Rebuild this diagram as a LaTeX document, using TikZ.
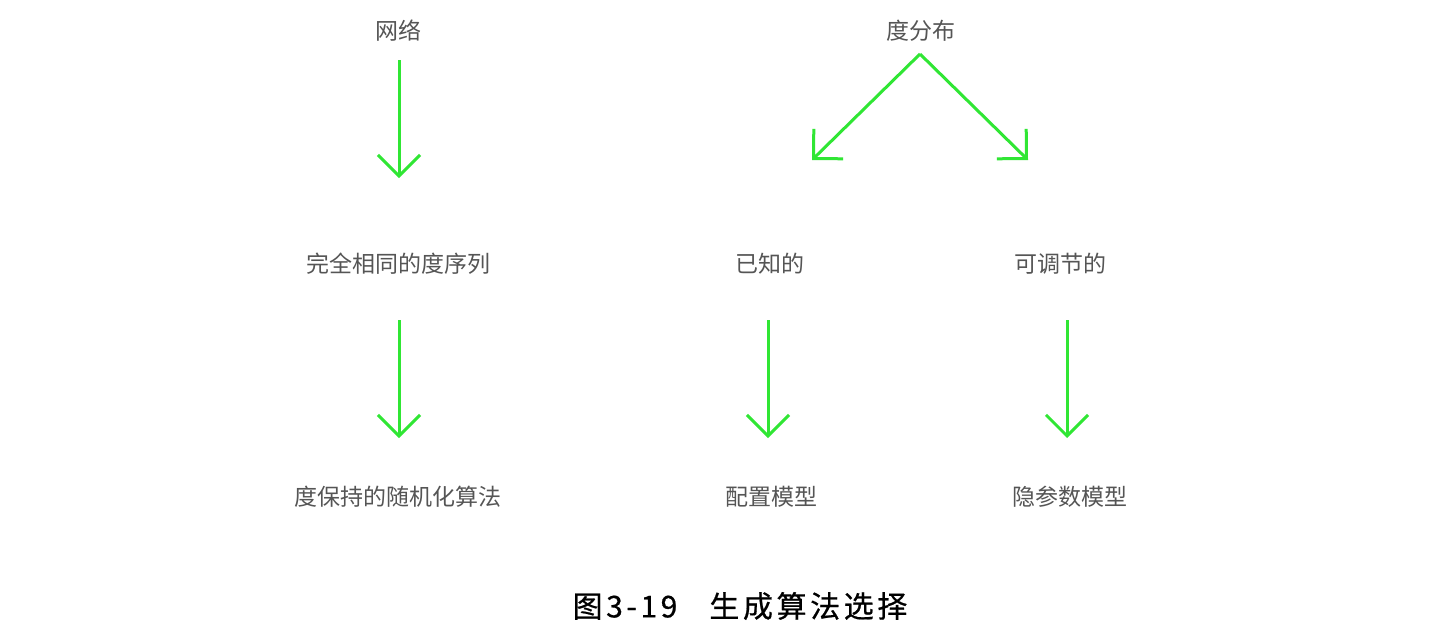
\documentclass[tikz,border=0pt]{standalone}
\usepackage{fontspec}
\newfontfamily\cjk{Noto Sans CJK SC}
\newfontfamily\capfont[LetterSpace=12,FakeBold=0.6]{Noto Sans CJK SC}
\usetikzlibrary{arrows.meta}
\definecolor{arrowgreen}{RGB}{48,230,52}
\definecolor{labelgray}{RGB}{85,85,85}
\tikzset{
  lbl/.style={inner sep=0pt, text=labelgray, font=\cjk\fontsize{11.5}{14}\selectfont},
  arr/.style={draw=arrowgreen, line width=1.5pt,
    -{Straight Barb[length=10.5pt,width=21pt,line width=1.5pt]}},
}
\begin{document}
\begin{tikzpicture}[x=0.5pt,y=-0.5pt]
  \useasboundingbox[fill=white] (0,0) rectangle (1456,634);
  % top row
  \node[lbl] (net) at (398,31) {网络};
  \node[lbl] (deg) at (921,31) {度分布};
  % middle row
  \node[lbl] (same) at (398,264) {完全相同的度序列};
  \node[lbl] (known) at (770,264) {已知的};
  \node[lbl] (tune) at (1060,264) {可调节的};
  % bottom row
  \node[lbl] (rand) at (398,497) {度保持的随机化算法};
  \node[lbl] (conf) at (771,497) {配置模型};
  \node[lbl] (hidden) at (1070,497) {隐参数模型};
  % caption
  \node[inner sep=0pt, font=\capfont\fontsize{15}{18}\selectfont] (cap) at (740,606) {图3-19\hspace{16pt}生成算法选择};
  % arrow end points
  \coordinate (netA) at (399,60);   \coordinate (netB) at (399,178);
  \coordinate (degA) at (920,54);
  \coordinate (knownTip) at (812,160); \coordinate (tuneTip) at (1028,160);
  \coordinate (sameA) at (399,320); \coordinate (sameB) at (399,438);
  \coordinate (knownA) at (768,320); \coordinate (knownB) at (768,438);
  \coordinate (tuneA) at (1067,320); \coordinate (tuneB) at (1067,438);
  % connectors
  \draw[arr] (netA) -- (netB);
  \draw[arr] (degA) -- (knownTip);
  \draw[arr] (degA) -- (tuneTip);
  \draw[arr] (sameA) -- (sameB);
  \draw[arr] (knownA) -- (knownB);
  \draw[arr] (tuneA) -- (tuneB);
\end{tikzpicture}
\end{document}
